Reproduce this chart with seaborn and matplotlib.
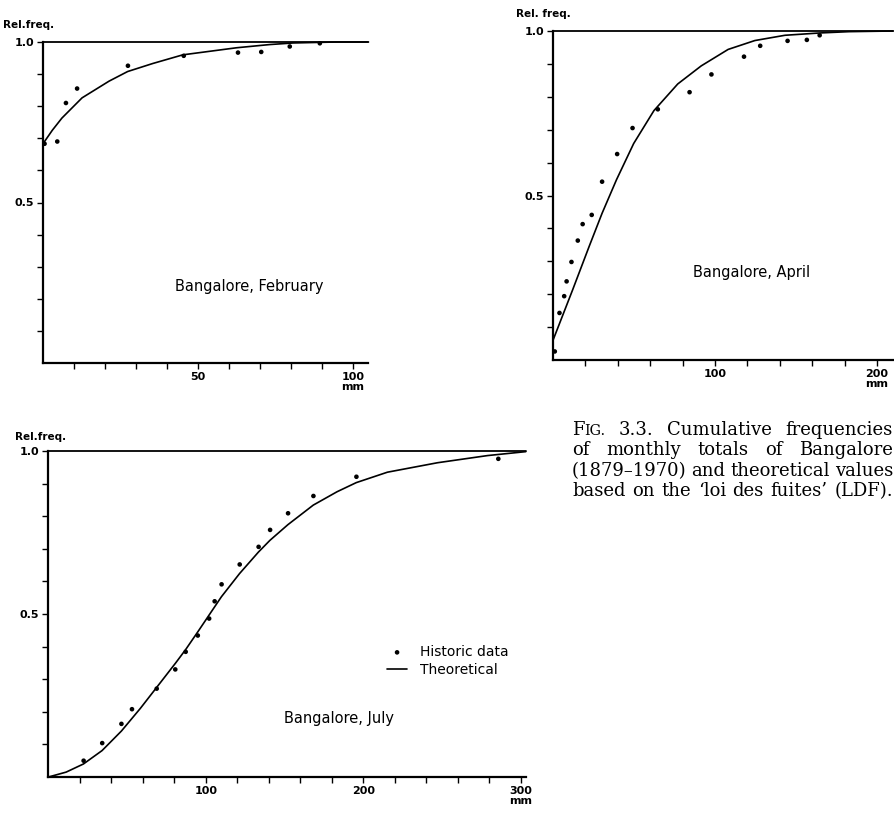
import numpy as np
import matplotlib
matplotlib.use("Agg")
import matplotlib.pyplot as plt
import seaborn as sns

# ---------------- data (rainfall in mm, cumulative relative frequency) ----------------
feb_obs_mm = [0.5, 4.6, 7.4, 11.0, 27.4, 45.4, 62.9, 70.4, 79.6, 89.3]
feb_obs_freq = [0.683, 0.690, 0.810, 0.855, 0.926, 0.957, 0.967, 0.969, 0.986, 0.996]
feb_fit_mm = [0, 3.0, 6.1, 12.6, 21.3, 27.3, 35.4, 45.1, 62.4, 73.1, 80.7, 94.7, 105]
feb_fit_freq = [0.683, 0.725, 0.763, 0.826, 0.878, 0.908, 0.933, 0.960, 0.982, 0.992, 0.997, 1.0, 1.0]

apr_obs_mm = [1.1, 4.0, 6.9, 8.4, 11.4, 15.3, 18.3, 23.9, 30.3, 39.6, 49.1, 64.7,
              84.3, 97.8, 117.9, 127.9, 144.8, 156.7, 164.6]
apr_obs_freq = [0.026, 0.143, 0.194, 0.239, 0.298, 0.363, 0.413, 0.441, 0.542, 0.626, 0.705, 0.762,
                0.814, 0.868, 0.922, 0.955, 0.970, 0.973, 0.987]
apr_fit_mm = [0, 12.1, 22.3, 30.3, 39.2, 49.8, 62.3, 77.0, 91.5, 108.1, 124.6, 143.2,
              164.6, 182.7, 210]
apr_fit_freq = [0.060, 0.213, 0.345, 0.446, 0.548, 0.658, 0.758, 0.839, 0.894, 0.944, 0.971, 0.987,
                0.994, 0.998, 1.0]

jul_obs_mm = [22.3, 34.1, 46.3, 53.0, 68.7, 80.5, 87.1, 94.8, 102.0, 105.5, 109.9, 121.4,
              133.4, 140.7, 152.1, 168.2, 195.5, 285.6]
jul_obs_freq = [0.050, 0.104, 0.163, 0.208, 0.271, 0.330, 0.384, 0.434, 0.486, 0.539, 0.591, 0.652,
                0.706, 0.758, 0.809, 0.862, 0.921, 0.976]
jul_fit_mm = [0, 11.2, 22.2, 34.0, 46.3, 58.4, 68.7, 80.6, 87.1, 94.9, 102.0, 109.8, 121.3,
              133.3, 140.6, 152.0, 168.1, 183.2, 195.4, 215.2, 247.0, 278.8, 303]
jul_fit_freq = [0.0, 0.015, 0.040, 0.081, 0.141, 0.211, 0.275, 0.349, 0.391, 0.446, 0.497, 0.553, 0.624,
                0.690, 0.726, 0.774, 0.834, 0.875, 0.903, 0.935, 0.964, 0.986, 0.998]

panel_titles = ["Bangalore, February", "Bangalore, April", "Bangalore, July"]
y_labels = ["Rel.freq.", "Rel. freq.", "Rel.freq."]
legend_labels = ["Historic data", "Theoretical"]
caption_lines = [
    "FIG. 3.3. Cumulative frequencies",
    "of monthly totals of Bangalore",
    "(1879–1970) and theoretical values",
    "based on the ‘loi des fuites’ (LDF).",
]

# ---------------- style ----------------
sns.set_theme(style="ticks")
plt.rcParams["font.family"] = ["DejaVu Sans"]
plt.rcParams.update({
    "text.color": "black",
    "axes.labelcolor": "black",
    "axes.edgecolor": "black",
    "axes.linewidth": 1.6,
    "xtick.color": "black",
    "ytick.color": "black",
    "xtick.labelcolor": "black",
    "ytick.labelcolor": "black",
    "xtick.major.size": 4.0,
    "ytick.major.size": 4.0,
    "xtick.major.width": 1.0,
    "ytick.major.width": 1.0,
    "xtick.major.pad": 2.5,
    "ytick.major.pad": 2.5,
    "xtick.direction": "out",
    "ytick.direction": "out",
})

W, H = 895, 817
fig = plt.figure(figsize=(W / 100, H / 100), dpi=100)
fig.patch.set_facecolor("white")


def axes_px(left, top, right, bottom):
    return fig.add_axes([left / W, 1 - bottom / H, (right - left) / W, (bottom - top) / H])


panels = [
    dict(box=(43, 42, 43 + 105 * 3.1, 363), xmax=105, xstep=10, xlab={50: "50", 100: "100\nmm"},
         obs=(feb_obs_mm, feb_obs_freq), fit=(feb_fit_mm, feb_fit_freq),
         title_at=(66.5, 0.237), ylab_off=(-14, 17)),
    dict(box=(553, 31, 553 + 210 * 1.62, 360), xmax=210, xstep=20, xlab={100: "100", 200: "200\nmm"},
         obs=(apr_obs_mm, apr_obs_freq), fit=(apr_fit_mm, apr_fit_freq),
         title_at=(122.7, 0.265), ylab_off=(-10, 17)),
    dict(box=(48.5, 451, 48.5 + 303 * 1.575, 777), xmax=303, xstep=20,
         xlab={100: "100", 200: "200", 300: "300\nmm"},
         obs=(jul_obs_mm, jul_obs_freq), fit=(jul_fit_mm, jul_fit_freq),
         title_at=(184.4, 0.18), ylab_off=(-8, 14)),
]

axes = []
for i, p in enumerate(panels):
    ax = axes_px(*p["box"])
    axes.append(ax)
    ax.set_facecolor("white")

    sns.lineplot(x=p["fit"][0], y=p["fit"][1], ax=ax, color="black", linewidth=1.2,
                 estimator=None, sort=False, label=legend_labels[1])
    sns.scatterplot(x=p["obs"][0], y=p["obs"][1], ax=ax, color="black", s=11,
                    linewidth=0, edgecolor="none", label=legend_labels[0])
    for art in list(ax.lines) + list(ax.collections):
        art.set_clip_on(False)

    ax.set_xlim(0, p["xmax"])
    ax.set_ylim(0, 1.0)
    # asymptote at relative frequency 1.0
    ax.axhline(1.0, color="black", linewidth=1.3, clip_on=False)

    xt = np.arange(p["xstep"], p["xmax"] + 0.01, p["xstep"])
    ax.set_xticks(xt)
    ax.set_xticklabels([p["xlab"].get(int(round(v)), "") for v in xt])
    yt = np.arange(1, 11) / 10
    ax.set_yticks(yt)
    ax.set_yticklabels([f"{v:.1f}" if f"{v:.1f}" in ("0.5", "1.0") else "" for v in yt])
    ax.tick_params(labelsize=8, colors="black")
    for lab in ax.get_xticklabels() + ax.get_yticklabels():
        lab.set_fontweight("bold")
        lab.set_linespacing(0.95)
    ax.set_xlabel("")
    ax.set_ylabel("")
    sns.despine(ax=ax)

    ax.annotate(y_labels[i], xy=(0, 1), xycoords="axes fraction",
                xytext=p["ylab_off"], textcoords="offset pixels",
                ha="center", va="center", fontsize=7.5, fontweight="bold", color="black")
    ax.text(p["title_at"][0], p["title_at"][1], panel_titles[i],
            ha="center", va="center", fontsize=10.5, color="black")

    if ax.get_legend() is not None:
        ax.get_legend().remove()

# legend in the July panel
ax = axes[2]
handles, labels = ax.get_legend_handles_labels()
order = [labels.index(legend_labels[0]), labels.index(legend_labels[1])]
leg = ax.legend([handles[k] for k in order], [labels[k] for k in order],
                loc="upper left", bbox_to_anchor=(387 / W, 1 - 645 / H),
                bbox_transform=fig.transFigure, frameon=False, fontsize=10,
                handlelength=1.45, handletextpad=0.9, labelspacing=0.3,
                borderpad=0, borderaxespad=0, scatterpoints=1, markerscale=1.0)
for t in leg.get_texts():
    t.set_color("black")

# ---------------- justified caption ----------------
fig.canvas.draw()
renderer = fig.canvas.get_renderer()
cap_size = 13
cap_left, cap_right = 572, 893
baselines = [435, 455.5, 476, 496.5]

for line, yb in zip(caption_lines, baselines):
    groups = []
    for word in line.split(" "):
        if word == "FIG.":
            parts = [("F", cap_size), ("IG.", cap_size * 0.8)]
        else:
            parts = [(word, cap_size)]
        items = []
        for s, fs in parts:
            t = fig.text(0, 1 - yb / H, s, fontsize=fs, family="DejaVu Serif",
                         ha="left", va="baseline", color="black")
            items.append((t, t.get_window_extent(renderer).width))
        groups.append(items)
    widths = [sum(w for _, w in g) for g in groups]
    natural = sum(widths)
    gap = (cap_right - cap_left - natural) / max(len(groups) - 1, 1)
    if gap < 3:
        # too long at full size: shrink the line slightly so it stays inside the figure
        scale = (cap_right - cap_left - 3 * (len(groups) - 1)) / natural
        for g in groups:
            for t, _ in g:
                t.set_fontsize(t.get_fontsize() * scale)
        groups = [[(t, t.get_window_extent(renderer).width) for t, _ in g] for g in groups]
        widths = [sum(w for _, w in g) for g in groups]
        gap = (cap_right - cap_left - sum(widths)) / max(len(groups) - 1, 1)
    x = cap_left
    for g in groups:
        for t, w in g:
            t.set_x(x / W)
            x += w
        x += gap

fig.savefig("out.png", dpi=100, facecolor="white")
